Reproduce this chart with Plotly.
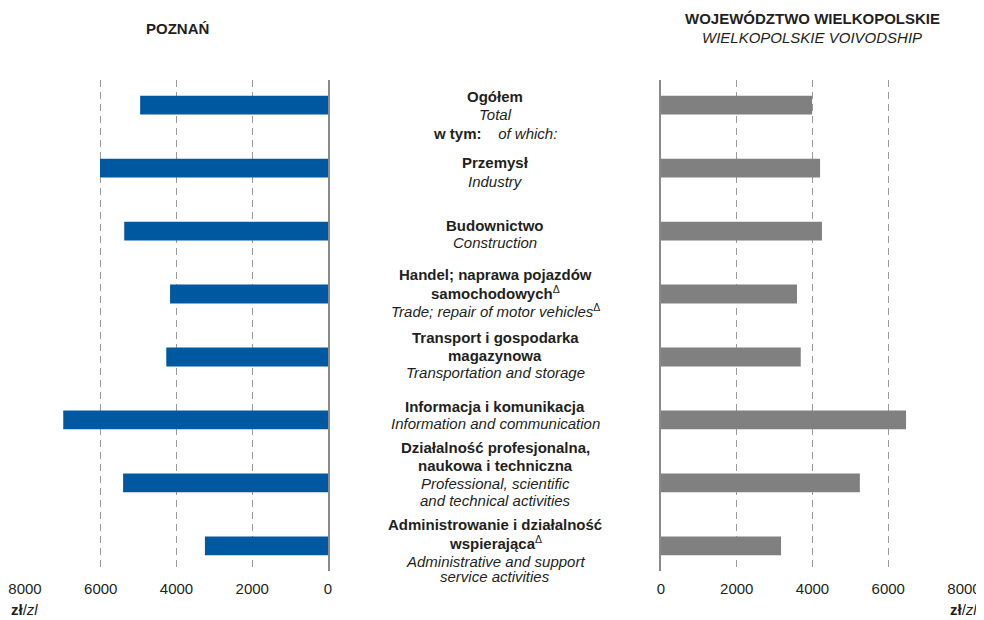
import plotly.graph_objects as go
from plotly.subplots import make_subplots

categories = ["Ogółem", "Przemysł", "Budownictwo", "Handel", "Transport",
              "Informacja", "Działalność", "Administrowanie"]
poznan = [4960, 6020, 5380, 4170, 4270, 6990, 5410, 3250]
wielkopolska = [3990, 4200, 4250, 3590, 3690, 6470, 5250, 3170]
tick_vals = [0, 2000, 4000, 6000, 8000]
tick_text = ["0", "2000", "4000", "6000", "8000"]

# label lines per category: (text, pixel y of line centre in the reference)
label_lines = [
    [("<b>Ogółem</b>", 96), ("<i>Total</i>", 114), ("<b>w tym:</b>    <i>of which:</i>", 133)],
    [("<b>Przemysł</b>", 162), ("<i>Industry</i>", 181)],
    [("<b>Budownictwo</b>", 225), ("<i>Construction</i>", 242)],
    [("<b>Handel; naprawa pojazdów</b>", 274), ("<b>samochodowych</b><sup>Δ</sup>", 292),
     ("<i>Trade; repair of motor vehicles</i><sup>Δ</sup>", 310)],
    [("<b>Transport i gospodarka</b>", 338), ("<b>magazynowa</b>", 356),
     ("<i>Transportation and storage</i>", 373)],
    [("<b>Informacja i komunikacja</b>", 407), ("<i>Information and communication</i>", 424)],
    [("<b>Działalność profesjonalna,</b>", 448), ("<b>naukowa i techniczna</b>", 466),
     ("<i>Professional, scientific</i>", 484), ("<i>and technical activities</i>", 501)],
    [("<b>Administrowanie i działalność</b>", 525), ("<b>wspierająca</b><sup>Δ</sup>", 543),
     ("<i>Administrative and support</i>", 562), ("<i>service activities</i>", 577)],
]

FONT = "Liberation Sans, Arial, sans-serif"
COL = "#231f20"
OFF = 8  # page body margin
W, H = 984 - OFF, 620 - OFF
ML, MR, MT, MB = 0, 0, 80 - OFF, 49
PW, PH = W - ML - MR, H - MT - MB
Y0, Y1 = 7.4, -0.4  # reversed category range


def px_x(px):
    return (px - OFF - ML) / PW


def px_y(py):
    return (H - MB - (py - OFF)) / PH


fig = make_subplots(rows=1, cols=2)
fig.add_trace(go.Bar(y=categories, x=poznan, orientation="h", width=0.3,
                     marker=dict(color="#0059A0", line=dict(width=0)),
                     hoverinfo="x+y"), row=1, col=1)
fig.add_trace(go.Bar(y=categories, x=wielkopolska, orientation="h", width=0.3,
                     marker=dict(color="#808080", line=dict(width=0)),
                     hoverinfo="x+y"), row=1, col=2)

xcommon = dict(tickvals=tick_vals, ticktext=tick_text, showgrid=True,
               gridcolor="#9a9a9a", gridwidth=1, griddash="7px,5px",
               zeroline=False, showline=False, ticks="", automargin=False,
               ticklabelstandoff=7,
               tickfont=dict(family=FONT, size=15, color=COL))
fig.update_xaxes(range=[8000, 0], domain=[px_x(25), px_x(328)], row=1, col=1, **xcommon)
fig.update_xaxes(range=[0, 8000], domain=[px_x(661), px_x(964)], row=1, col=2, **xcommon)

ycommon = dict(range=[Y0, Y1], showticklabels=False, showgrid=False, automargin=False,
               zeroline=False, showline=True, linecolor="#8a8a8a", linewidth=2,
               ticks="")
fig.update_yaxes(side="right", row=1, col=1, **ycommon)
fig.update_yaxes(side="left", row=1, col=2, **ycommon)

unit = PH / (Y0 - Y1)
ann = []
for i, (cat, lines) in enumerate(zip(categories, label_lines)):
    centre_px = OFF + MT + (i - Y1) * unit
    for txt, ly in lines:
        ann.append(dict(x=px_x(495), xref="paper", y=cat, yref="y", yshift=centre_px - ly,
                        text=txt, showarrow=False, xanchor="center", yanchor="middle",
                        font=dict(family=FONT, size=15, color=COL)))

extra = [
    dict(x=px_x(177), y=px_y(28), text="<b>POZNAŃ</b>", xanchor="center"),
    dict(x=px_x(812), y=px_y(18), text="<b>WOJEWÓDZTWO WIELKOPOLSKIE</b>", xanchor="center"),
    dict(x=px_x(812), y=px_y(38), text="<i>WIELKOPOLSKIE VOIVODSHIP</i>", xanchor="center"),
    dict(x=px_x(9), y=px_y(609), text="<b>zł</b>/<i>zl</i>", xanchor="left"),
    dict(x=px_x(979), y=px_y(609), text="<b>zł</b>/<i>zl</i>", xanchor="right"),
]
for a in extra:
    a.update(xref="paper", yref="paper", showarrow=False, yanchor="middle",
             font=dict(family=FONT, size=15, color=COL))
ann += extra

fig.update_layout(width=W, height=H, margin=dict(l=ML, r=MR, t=MT, b=MB, autoexpand=False),
                  paper_bgcolor="white", plot_bgcolor="white", showlegend=False,
                  annotations=ann)
fig.write_html("out.html")
